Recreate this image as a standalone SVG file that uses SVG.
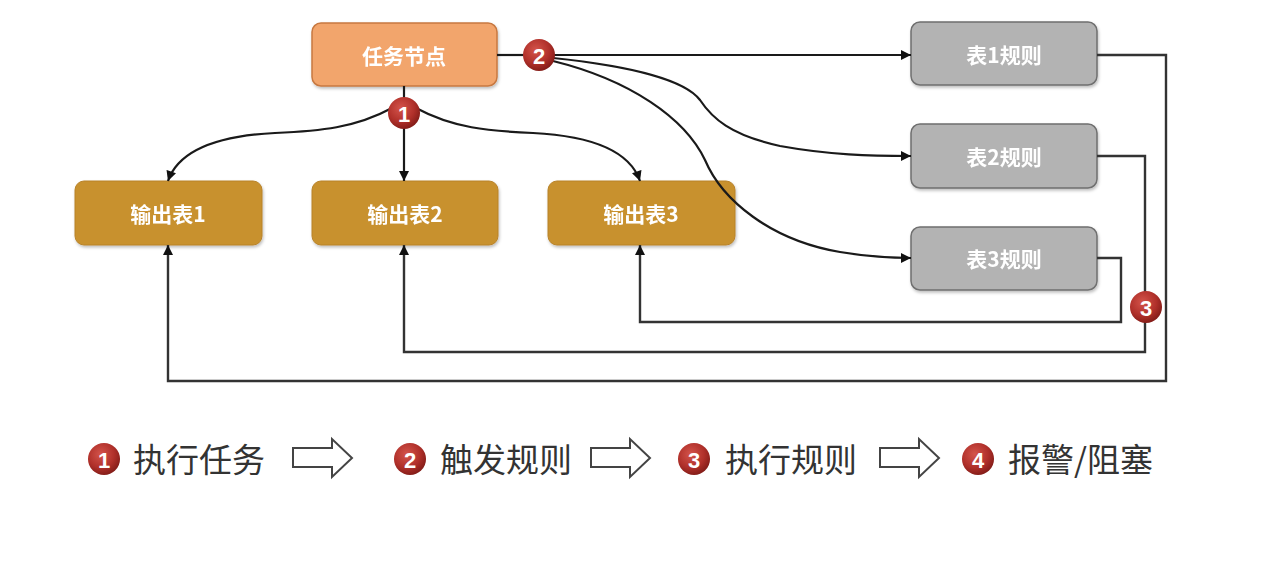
<svg xmlns="http://www.w3.org/2000/svg" width="1269" height="578" viewBox="0 0 1269 578">
<style>
.box text{font-family:"Noto Sans CJK SC","Noto Sans",sans-serif;font-weight:bold;font-size:21px;fill:#fff;text-anchor:middle;dominant-baseline:central}
.task rect{fill:#F2A56C;stroke:#C77840;stroke-width:1.5}
.out rect{fill:#C8912F;stroke:#B8822A;stroke-width:1}
.rule rect{fill:#B3B3B3;stroke:#6F6F6F;stroke-width:1.5}
.conn path{fill:none;stroke:#1a1a1a;stroke-width:2.2}
.fb path{fill:none;stroke:#333;stroke-width:2.4}
.badge circle{fill:url(#bg)}
.badge text{font-family:"Liberation Sans",Arial,sans-serif;font-weight:bold;font-size:22px;fill:#fff;text-anchor:middle;dominant-baseline:central}
.leg text.l{font-family:"Noto Sans CJK SC","Noto Sans",sans-serif;font-size:33px;fill:#333;dominant-baseline:central}
.harrow{fill:#fff;stroke:#444;stroke-width:2}
</style>
<defs>
<radialGradient id="bg" cx="0.4" cy="0.35" r="0.7">
<stop offset="0" stop-color="#D4544B"/>
<stop offset="0.6" stop-color="#B0302A"/>
<stop offset="1" stop-color="#7E1A16"/>
</radialGradient>
<marker id="ah" viewBox="0 0 10 10" refX="10" refY="5" markerWidth="11" markerHeight="10" orient="auto" markerUnits="userSpaceOnUse">
<path d="M0,0 L10,5 L0,10 z" fill="#111"/>
</marker>
<filter id="sh" x="-10%" y="-10%" width="120%" height="130%">
<feDropShadow dx="1" dy="2" stdDeviation="1.5" flood-color="#000" flood-opacity="0.25"/>
</filter>
</defs>
<rect width="1269" height="578" fill="#fff"/>

<g id="task" class="box task" filter="url(#sh)"><rect x="312" y="23" width="185" height="63" rx="9"/><text x="404" y="55">任务节点</text></g>
<g id="out1" class="box out" filter="url(#sh)"><rect x="75" y="181" width="187" height="64" rx="9"/><text x="168" y="213">输出表1</text></g>
<g id="out2" class="box out" filter="url(#sh)"><rect x="312" y="181" width="186" height="64" rx="9"/><text x="405" y="213">输出表2</text></g>
<g id="out3" class="box out" filter="url(#sh)"><rect x="548" y="181" width="187" height="64" rx="9"/><text x="641" y="213">输出表3</text></g>
<g id="rule1" class="box rule" filter="url(#sh)"><rect x="911" y="22" width="186" height="63" rx="9"/><text x="1004" y="54">表1规则</text></g>
<g id="rule2" class="box rule" filter="url(#sh)"><rect x="911" y="124" width="186" height="64" rx="9"/><text x="1004" y="156">表2规则</text></g>
<g id="rule3" class="box rule" filter="url(#sh)"><rect x="911" y="227" width="186" height="63" rx="9"/><text x="1004" y="258">表3规则</text></g>

<g id="connectors">
<g class="conn">
<path d="M404,86 L404,100"/>
<path d="M404,128 L404,181" marker-end="url(#ah)"/>
<path d="M392,108 C355,128 320,131 275,133 C215,136 178,152 168,181" marker-end="url(#ah)"/>
<path d="M416,108 C453,128 488,131 533,133 C593,136 630,152 640,181" marker-end="url(#ah)"/>
<path d="M497,55 L524,55"/>
<path d="M554,55 L911,55" marker-end="url(#ah)"/>
<path d="M553,58 C630,66 685,80 700,100 C712,118 730,135 780,146 C830,155 870,156 911,156" marker-end="url(#ah)"/>
<path d="M553,61 C630,80 685,118 705,160 C722,200 770,240 840,252 C870,257 890,258 911,258" marker-end="url(#ah)"/>
</g>
<g class="fb">
<path d="M1097,55 L1166,55 L1166,381 L168,381 L168,245" marker-end="url(#ah)"/>
<path d="M1097,156 L1145,156 L1145,352 L404,352 L404,245" marker-end="url(#ah)"/>
<path d="M1097,258 L1121,258 L1121,322 L640,322 L640,245" marker-end="url(#ah)"/>
</g>
</g>

<g id="badge1" class="badge"><circle cx="404" cy="113" r="16"/><text x="404" y="114">1</text></g>
<g id="badge2" class="badge"><circle cx="539" cy="55" r="16"/><text x="539" y="56">2</text></g>
<g id="badge3" class="badge"><circle cx="1146" cy="307" r="16"/><text x="1146" y="308">3</text></g>

<g id="legend" class="leg">
<g class="badge"><circle cx="104" cy="459" r="16"/><text x="104" y="460">1</text></g>
<text class="l" x="133" y="458">执行任务</text>
<path class="harrow" d="M293,448 L332,448 L332,439 L352,458 L332,477 L332,467 L293,467 z"/>
<g class="badge"><circle cx="410" cy="459" r="16"/><text x="410" y="460">2</text></g>
<text class="l" x="440" y="458">触发规则</text>
<path class="harrow" d="M591,448 L630,448 L630,439 L650,458 L630,477 L630,467 L591,467 z"/>
<g class="badge"><circle cx="694" cy="459" r="16"/><text x="694" y="460">3</text></g>
<text class="l" x="725" y="458">执行规则</text>
<path class="harrow" d="M880,448 L919,448 L919,439 L939,458 L919,477 L919,467 L880,467 z"/>
<g class="badge"><circle cx="978" cy="459" r="16"/><text x="978" y="460">4</text></g>
<text class="l" x="1008" y="458">报警/阻塞</text>
</g>
</svg>
